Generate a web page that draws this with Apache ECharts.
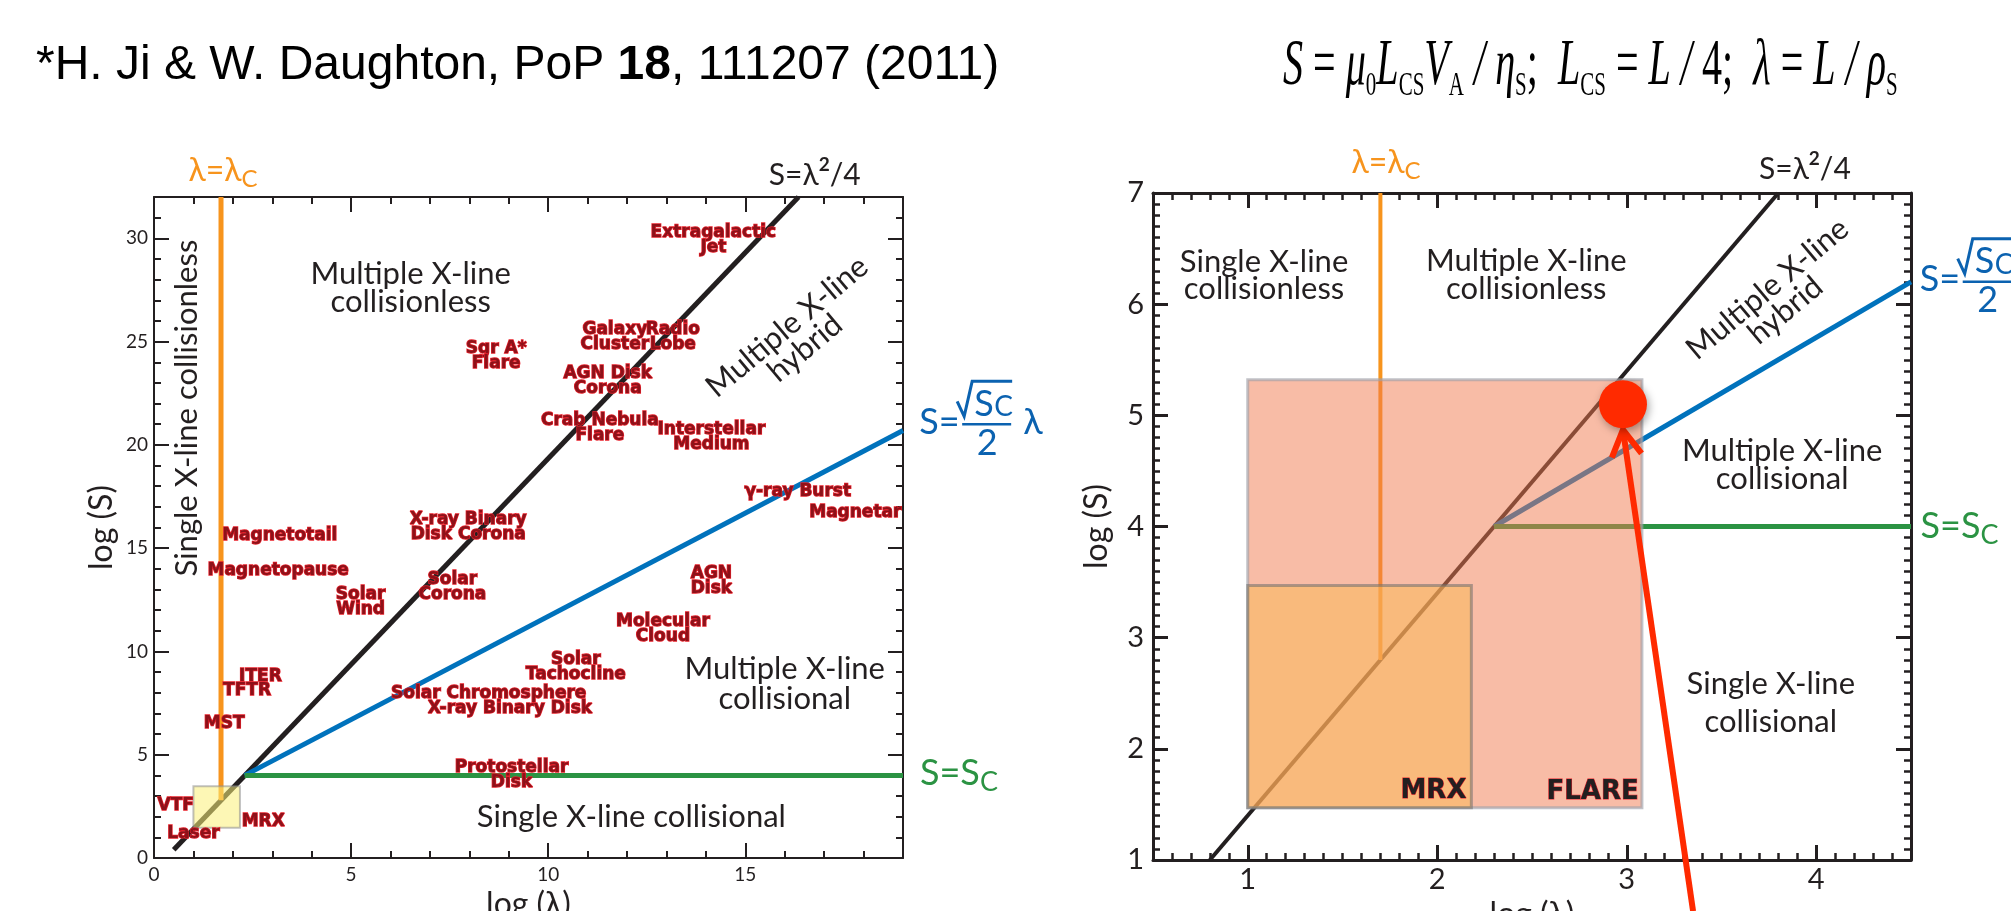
<!DOCTYPE html>
<html>
<head>
<meta charset="utf-8">
<script src="https://cdn.jsdelivr.net/npm/echarts@6.0.0/dist/echarts.min.js"></script>
<style>
html,body{margin:0;padding:0;background:#ffffff;}
#chart{width:2011px;height:911px;}
</style>
</head>
<body>
<div id="chart"></div>
<script>
// ================= DATA =================
// axes
const leftXRange = [0, 19];
const leftYRange = [0, 32];
const leftXTicks = [0, 5, 10, 15];
const leftYTicks = [0, 5, 10, 15, 20, 25, 30];
const rightXRange = [0.5, 4.5];
const rightYRange = [1, 7];
const rightXTicks = [1, 2, 3, 4];
const rightYTicks = [1, 2, 3, 4, 5, 6, 7];

// boundary lines [log λ, log S]
const leftTearing  = [[0.5, 0.4], [16.35, 32]];   // S = λ²/4
const leftPlasmoid = [[2.3, 4.0], [19, 20.7]];    // S = √Sc/2 λ
const leftCritical = [[2.3, 4.0], [19, 4.0]];     // S = Sc
const leftLambdaC  = [[1.7, 2.8], [1.7, 32]];     // λ = λc
const rightTearing  = [[0.8, 1.0], [3.8, 7.0]];
const rightPlasmoid = [[2.3, 4.0], [4.5, 6.2]];
const rightCritical = [[2.3, 4.0], [4.5, 4.0]];
const rightLambdaC  = [[1.7, 2.8], [1.7, 7.0]];

// parameter boxes [x0, y0, x1, y1]
const mrxBox   = [1.0, 1.47, 2.18, 3.47];
const flareBox = [1.0, 1.47, 3.08, 5.32];
const flarePoint = [2.98, 5.10];
const arrowTail = [3.35, 0.54];
const arrowHead = [2.98, 4.87];

// astrophysical / lab systems (left panel)
const objectNames = ['Extragalactic\nJet', 'Galaxy\nCluster', 'Radio\nLobe', 'Sgr A*\nFlare', 'AGN Disk\nCorona',
  'Crab Nebula\nFlare', 'Interstellar\nMedium', 'γ-ray Burst', 'Magnetar', 'X-ray Binary\nDisk Corona',
  'Magnetotail', 'Magnetopause', 'Solar\nCorona', 'Solar\nWind', 'AGN\nDisk', 'Molecular\nCloud',
  'Solar\nTachocline', 'Solar Chromosphere', 'X-ray Binary Disk', 'ITER', 'TFTR', 'MST',
  'Protostellar\nDisk', 'VTF', 'Laser', 'MRX'];
const objectX = [14.19, 11.69, 13.16, 8.68, 11.51, 11.31, 14.14, 16.33, 17.79, 7.97,
  3.19, 3.15, 7.57, 5.24, 14.14, 12.91, 10.70, 8.49, 9.03, 2.70, 2.36, 1.78, 9.07, 0.55, 1.00, 2.77];
const objectY = [29.9, 25.2, 25.2, 24.3, 23.07, 20.81, 20.37, 17.76, 16.74, 16.0,
  15.62, 13.92, 13.11, 12.39, 13.39, 11.10, 9.24, 7.98, 7.23, 8.76, 8.11, 6.53, 4.03, 2.52, 1.18, 1.78];

// phase regions
const leftRegionNames = ['Multiple X-line\ncollisionless', 'Single X-line collisionless', 'Multiple X-line\nhybrid',
  'Multiple X-line\ncollisional', 'Single X-line collisional'];
const leftRegionX = [6.51, 0.83, 16.29, 16.0, 12.11];
const leftRegionY = [27.6, 21.78, 25.2, 8.44, 1.98];
const leftRegionRot = [0, 90, 40, 0, 0];
const leftRegionLH = [28, 28, 28, 30, 28];

const rightRegionNames = ['Single X-line\ncollisionless', 'Multiple X-line\ncollisionless', 'Multiple X-line\nhybrid',
  'Multiple X-line\ncollisional', 'Single X-line\ncollisional'];
const rightRegionX = [1.086, 2.47, 3.79, 3.82, 3.76];
const rightRegionY = [6.26, 6.265, 6.04, 4.55, 2.41];
const rightRegionRot = [0, 0, 40, 0, 0];
const rightRegionLH = [27, 28, 28, 28, 38];

const rightBoxNames = ['MRX', 'FLARE'];
const rightBoxLabelX = [1.98, 2.82];
const rightBoxLabelY = [1.62, 1.61];

// boundary annotations: [λ=λc, S=λ²/4, S=√Sc/2 λ, S=Sc]
const leftEdgeX = [1.75, 16.76, 19.41, 19.43];
const leftEdgeY = [33.27, 33.03, 21.09, 4.08];
const rightEdgeX = [1.73, 3.94, 4.546, 4.55];
const rightEdgeY = [7.27, 7.21, 6.22, 4.0];

// ================= STYLE =================
const INK = '#231f20';
const ORANGE = '#f7941d';
const BLUE = '#0072bc';
const BLUE_TXT = '#0b62b0';
const GREEN = '#2b9343';
const RED = '#ff2a00';
const SANS = 'Lato, "Open Sans", "Noto Sans", sans-serif';
const BOLD = '"DejaVu Sans", Verdana, sans-serif';
const SERIF = '"Liberation Serif", "Times New Roman", serif';

function majorAxis(o) {
  return {
    type: 'value', gridIndex: o.grid, position: o.pos, min: o.range[0], max: o.range[1],
    axisLine: { show: true, onZero: false, lineStyle: { color: INK, width: o.lw } },
    axisTick: { show: true, inside: true, length: 15, customValues: o.ticks, lineStyle: { color: INK, width: o.lw } },
    axisLabel: o.labels ? { show: true, customValues: o.ticks, color: INK, fontFamily: SANS, fontSize: o.fs, margin: o.margin } : { show: false },
    splitLine: { show: false },
    name: o.name || '', nameLocation: 'middle', nameGap: o.nameGap || 0,
    nameTextStyle: { color: INK, fontFamily: SANS, fontSize: 32 },
    silent: true
  };
}
function minorAxis(o) {
  return {
    type: 'value', gridIndex: o.grid, position: o.pos, min: o.range[0], max: o.range[1], interval: o.step,
    axisLine: { show: false, onZero: false },
    axisTick: { show: true, inside: true, length: 7, lineStyle: { color: INK, width: o.lw } },
    axisLabel: { show: false }, splitLine: { show: false }, silent: true
  };
}

const xAxes = [
  majorAxis({ grid: 0, pos: 'bottom', range: leftXRange, ticks: leftXTicks, labels: true, lw: 2, fs: 19, margin: 7, name: 'log (λ)', nameGap: 31 }),
  minorAxis({ grid: 0, pos: 'bottom', range: leftXRange, step: 1, lw: 2 }),
  majorAxis({ grid: 0, pos: 'top', range: leftXRange, ticks: leftXTicks, labels: false, lw: 2 }),
  minorAxis({ grid: 0, pos: 'top', range: leftXRange, step: 1, lw: 2 }),
  majorAxis({ grid: 1, pos: 'bottom', range: rightXRange, ticks: rightXTicks, labels: true, lw: 3, fs: 29, margin: 5, name: 'log (λ)', nameGap: 30 }),
  minorAxis({ grid: 1, pos: 'bottom', range: rightXRange, step: 0.1, lw: 2.5 }),
  majorAxis({ grid: 1, pos: 'top', range: rightXRange, ticks: rightXTicks, labels: false, lw: 3 }),
  minorAxis({ grid: 1, pos: 'top', range: rightXRange, step: 0.1, lw: 2.5 })
];
const yAxes = [
  majorAxis({ grid: 0, pos: 'left', range: leftYRange, ticks: leftYTicks, labels: true, lw: 2, fs: 19, margin: 6, name: 'log (S)', nameGap: 36 }),
  minorAxis({ grid: 0, pos: 'left', range: leftYRange, step: 1, lw: 2 }),
  majorAxis({ grid: 0, pos: 'right', range: leftYRange, ticks: leftYTicks, labels: false, lw: 2 }),
  minorAxis({ grid: 0, pos: 'right', range: leftYRange, step: 1, lw: 2 }),
  majorAxis({ grid: 1, pos: 'left', range: rightYRange, ticks: rightYTicks, labels: true, lw: 3, fs: 29, margin: 9, name: 'log (S)', nameGap: 40 }),
  minorAxis({ grid: 1, pos: 'left', range: rightYRange, step: 0.1, lw: 2.5 }),
  majorAxis({ grid: 1, pos: 'right', range: rightYRange, ticks: rightYTicks, labels: false, lw: 3 }),
  minorAxis({ grid: 1, pos: 'right', range: rightYRange, step: 0.1, lw: 2.5 })
];

function lineSeries(xi, yi, data, color, width) {
  return { type: 'line', xAxisIndex: xi, yAxisIndex: yi, data: data, symbol: 'none', silent: true, z: 2,
    lineStyle: { color: color, width: width }, animation: false };
}

function boxSeries(xi, yi, box, fill, stroke, lw, z) {
  return {
    type: 'custom', xAxisIndex: xi, yAxisIndex: yi, z: z, silent: true, data: [box],
    renderItem: function (params, api) {
      const p0 = api.coord([api.value(0), api.value(3)]);
      const p1 = api.coord([api.value(2), api.value(1)]);
      return { type: 'rect', shape: { x: p0[0], y: p0[1], width: p1[0] - p0[0], height: p1[1] - p0[1] },
        style: { fill: fill, stroke: stroke, lineWidth: lw } };
    }
  };
}

function labelSeries(xi, yi, xs, ys, texts, styleFn, z) {
  return {
    type: 'custom', xAxisIndex: xi, yAxisIndex: yi, z: z || 10, silent: true, clip: false,
    data: xs.map(function (x, i) { return [x, ys[i]]; }),
    renderItem: function (params, api) {
      const p = api.coord([api.value(0), api.value(1)]);
      const i = params.dataIndex;
      const s = styleFn(i);
      return { type: 'text', x: p[0], y: p[1], rotation: (s.rot || 0) * Math.PI / 180,
        style: Object.assign({ text: texts[i], align: 'center', verticalAlign: 'middle' }, s.style) };
    }
  };
}

const objectStyle = function () {
  return { style: { fontSize: 17, fontWeight: 'bold', fontFamily: BOLD, fill: '#8e1119', stroke: '#e8212b', lineWidth: 1.3, lineHeight: 15 } };
};
function regionStyle(rots, lhs) {
  return function (i) {
    return { rot: rots[i], style: { fontSize: 31, fontFamily: SANS, fill: INK, lineHeight: lhs[i] } };
  };
}

function edgeSeries(xi, yi, xs, ys, withLambda) {
  return {
    type: 'custom', xAxisIndex: xi, yAxisIndex: yi, z: 10, silent: true, clip: false,
    data: xs.map(function (x, i) { return [x, ys[i]]; }),
    renderItem: function (params, api) {
      const p = api.coord([api.value(0), api.value(1)]);
      const i = params.dataIndex;
      if (i === 0) {
        return { type: 'text', x: p[0], y: p[1], style: { text: 'λ=λ{s|C}', align: 'center', verticalAlign: 'middle',
          fontSize: 32, fontFamily: SANS, fill: ORANGE, lineHeight: 40,
          rich: { s: { fontSize: 24, fontFamily: SANS, fill: ORANGE, lineHeight: 24, verticalAlign: 'bottom' } } } };
      }
      if (i === 1) {
        return { type: 'text', x: p[0], y: p[1], style: { text: 'S=λ{p|2}/4', align: 'center', verticalAlign: 'middle',
          fontSize: 30, fontFamily: SANS, fill: INK, lineHeight: 40,
          rich: { p: { fontSize: 19, fontWeight: 'bold', fontFamily: SANS, fill: INK, lineHeight: 19, verticalAlign: 'top' } } } };
      }
      if (i === 3) {
        return { type: 'text', x: p[0], y: p[1], style: { text: 'S=S{s|C}', align: 'left', verticalAlign: 'middle',
          fontSize: 36, fontFamily: SANS, fill: GREEN, lineHeight: 44,
          rich: { s: { fontSize: 27, fontFamily: SANS, fill: GREEN, lineHeight: 27, verticalAlign: 'bottom' } } } };
      }
      const kids = [
        { type: 'text', style: { text: 'S=', x: 0, y: 0, align: 'left', verticalAlign: 'middle', fontSize: 36, fontFamily: SANS, fill: BLUE_TXT } },
        { type: 'polyline', shape: { points: [[38, -21], [45, -6], [53, -41], [93, -41]] }, style: { stroke: BLUE_TXT, lineWidth: 3, fill: null } },
        { type: 'text', style: { text: 'S', x: 55, y: -18, align: 'left', verticalAlign: 'middle', fontSize: 36, fontFamily: SANS, fill: BLUE_TXT } },
        { type: 'text', style: { text: 'C', x: 75, y: -15, align: 'left', verticalAlign: 'middle', fontSize: 28, fontFamily: SANS, fill: BLUE_TXT } },
        { type: 'line', shape: { x1: 43, y1: 2, x2: 92, y2: 2 }, style: { stroke: BLUE_TXT, lineWidth: 2.5 } },
        { type: 'text', style: { text: '2', x: 68, y: 21, align: 'center', verticalAlign: 'middle', fontSize: 36, fontFamily: SANS, fill: BLUE_TXT } }
      ];
      if (withLambda) {
        kids.push({ type: 'text', style: { text: 'λ', x: 104, y: 0, align: 'left', verticalAlign: 'middle', fontSize: 36, fontFamily: SANS, fill: BLUE_TXT } });
      }
      return { type: 'group', x: p[0], y: p[1], children: kids };
    }
  };
}

const series = [
  // ---------- left panel ----------
  lineSeries(0, 0, leftTearing, INK, 5),
  lineSeries(0, 0, leftPlasmoid, BLUE, 5),
  lineSeries(0, 0, leftCritical, GREEN, 5),
  lineSeries(0, 0, leftLambdaC, ORANGE, 5),
  boxSeries(0, 0, mrxBox, 'rgba(252,240,120,0.55)', 'rgba(140,140,140,0.55)', 2, 4),
  labelSeries(0, 0, objectX, objectY, objectNames, objectStyle, 10),
  labelSeries(0, 0, leftRegionX, leftRegionY, leftRegionNames, regionStyle(leftRegionRot, leftRegionLH), 10),
  edgeSeries(0, 0, leftEdgeX, leftEdgeY, true),
  // ---------- right panel ----------
  lineSeries(4, 4, rightTearing, INK, 4),
  lineSeries(4, 4, rightPlasmoid, BLUE, 5),
  lineSeries(4, 4, rightCritical, GREEN, 5),
  lineSeries(4, 4, rightLambdaC, ORANGE, 4),
  boxSeries(4, 4, flareBox, 'rgba(241,121,77,0.5)', 'rgba(160,162,170,0.65)', 3, 4),
  boxSeries(4, 4, mrxBox, 'rgba(250,184,90,0.55)', 'rgba(110,110,110,0.55)', 3, 5),
  labelSeries(4, 4, rightRegionX, rightRegionY, rightRegionNames, regionStyle(rightRegionRot, rightRegionLH), 10),
  labelSeries(4, 4, rightBoxLabelX, rightBoxLabelY, rightBoxNames, function () {
    return { style: { fontSize: 26, fontWeight: 'bold', fontFamily: BOLD, fill: INK, stroke: '#e8212b', lineWidth: 1 } };
  }, 10),
  edgeSeries(4, 4, rightEdgeX, rightEdgeY, false),
  {
    type: 'scatter', xAxisIndex: 4, yAxisIndex: 4, z: 12, silent: true, data: [flarePoint],
    symbol: 'circle', symbolSize: 48,
    itemStyle: { color: RED, opacity: 1, shadowBlur: 8, shadowColor: 'rgba(0,0,0,0.35)', shadowOffsetX: 2, shadowOffsetY: 3 }
  },
  {
    type: 'custom', xAxisIndex: 4, yAxisIndex: 4, z: 12, silent: true, clip: false,
    data: [[arrowTail[0], arrowTail[1], arrowHead[0], arrowHead[1]]],
    renderItem: function (params, api) {
      const a = api.coord([api.value(0), api.value(1)]);
      const b = api.coord([api.value(2), api.value(3)]);
      const dx = b[0] - a[0], dy = b[1] - a[1], len = Math.sqrt(dx * dx + dy * dy);
      const bx = -dx / len, by = -dy / len;
      const wing = 30, ang = 30 * Math.PI / 180;
      const w1 = [b[0] + wing * (bx * Math.cos(ang) - by * Math.sin(ang)), b[1] + wing * (bx * Math.sin(ang) + by * Math.cos(ang))];
      const w2 = [b[0] + wing * (bx * Math.cos(-ang) - by * Math.sin(-ang)), b[1] + wing * (bx * Math.sin(-ang) + by * Math.cos(-ang))];
      return { type: 'group', children: [
        { type: 'line', shape: { x1: a[0], y1: a[1], x2: b[0], y2: b[1] }, style: { stroke: RED, lineWidth: 6 } },
        { type: 'polyline', shape: { points: [w1, b, w2] }, style: { stroke: RED, lineWidth: 6, fill: null, lineJoin: 'miter' } }
      ] };
    }
  }
];

const chart = echarts.init(document.getElementById('chart'), null, { renderer: 'canvas' });
chart.setOption({
  animation: false,
  backgroundColor: '#ffffff',
  textStyle: { fontFamily: SANS },
  grid: [
    { left: 154, top: 197, width: 749, height: 661, containLabel: false, outerBoundsMode: 'none' },
    { left: 1153, top: 193, width: 758, height: 667, containLabel: false, outerBoundsMode: 'none' }
  ],
  xAxis: xAxes,
  yAxis: yAxes,
  graphic: [
    { type: 'text', x: 36, y: 66, silent: true, style: {
      text: '*H. Ji & W. Daughton, PoP {b|18}, 111207 (2011)', align: 'left', verticalAlign: 'middle',
      fontSize: 48, fontFamily: '"Liberation Sans", Arial, sans-serif', fill: '#000', lineHeight: 54,
      rich: { b: { fontSize: 48, fontWeight: 'bold', fontFamily: '"Liberation Sans", Arial, sans-serif', fill: '#000', lineHeight: 54 } } } },
    { type: 'text', x: 1283, y: 67, scaleX: 0.617, silent: true, style: {
      text: '{i|S} = {i|μ}{s|0}{i|L}{s|CS}{i|V}{s|A} {i|/} {i|η}{s|S};  {i|L}{s|CS} = {i|L} {i|/} 4;  {i|λ} = {i|L} {i|/} {i|ρ}{s|S}',
      align: 'left', verticalAlign: 'middle', fontSize: 65, fontFamily: SERIF, fill: '#000', lineHeight: 72,
      rich: {
        i: { fontSize: 65, fontStyle: 'italic', fontFamily: SERIF, fill: '#000', lineHeight: 72 },
        s: { fontSize: 34, fontFamily: SERIF, fill: '#000', lineHeight: 45, verticalAlign: 'bottom' }
      } } }
  ],
  series: series
});
</script>
</body>
</html>
